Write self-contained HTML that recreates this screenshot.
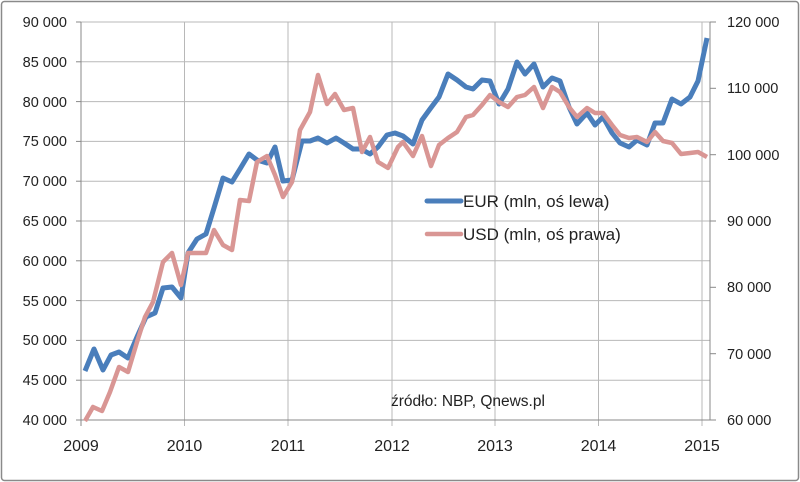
<!DOCTYPE html>
<html><head><meta charset="utf-8"><style>
html,body{margin:0;padding:0;background:#fff}
svg{display:block}
text{font-family:"Liberation Sans","DejaVu Sans",sans-serif;fill:#222}
</style></head><body>
<svg width="800" height="482" viewBox="0 0 800 482" xmlns="http://www.w3.org/2000/svg">
<rect x="1.5" y="1.5" width="797" height="479" rx="3" fill="#fff" stroke="#8a8a8a" stroke-width="1.5"/>
<g stroke="#b8b8b8" stroke-width="1">
<line x1="81" y1="22" x2="710" y2="22"/><line x1="81" y1="61.8" x2="710" y2="61.8"/><line x1="81" y1="101.6" x2="710" y2="101.6"/><line x1="81" y1="141.4" x2="710" y2="141.4"/><line x1="81" y1="181.2" x2="710" y2="181.2"/><line x1="81" y1="221" x2="710" y2="221"/><line x1="81" y1="260.8" x2="710" y2="260.8"/><line x1="81" y1="300.6" x2="710" y2="300.6"/><line x1="81" y1="340.4" x2="710" y2="340.4"/><line x1="81" y1="380.2" x2="710" y2="380.2"/>
<line x1="184.5" y1="22" x2="184.5" y2="426"/><line x1="288" y1="22" x2="288" y2="426"/><line x1="392" y1="22" x2="392" y2="426"/><line x1="495" y1="22" x2="495" y2="426"/><line x1="598.5" y1="22" x2="598.5" y2="426"/><line x1="702" y1="22" x2="702" y2="426"/>
</g>
<g stroke="#888" stroke-width="1">
<line x1="81" y1="22" x2="81" y2="426"/><line x1="76" y1="420" x2="710" y2="420"/><line x1="710" y1="22" x2="710" y2="420"/>
<line x1="76" y1="22" x2="81" y2="22"/><line x1="76" y1="61.8" x2="81" y2="61.8"/><line x1="76" y1="101.6" x2="81" y2="101.6"/><line x1="76" y1="141.4" x2="81" y2="141.4"/><line x1="76" y1="181.2" x2="81" y2="181.2"/><line x1="76" y1="221" x2="81" y2="221"/><line x1="76" y1="260.8" x2="81" y2="260.8"/><line x1="76" y1="300.6" x2="81" y2="300.6"/><line x1="76" y1="340.4" x2="81" y2="340.4"/><line x1="76" y1="380.2" x2="81" y2="380.2"/>
<line x1="710" y1="22" x2="716" y2="22"/><line x1="710" y1="88.3" x2="716" y2="88.3"/><line x1="710" y1="154.7" x2="716" y2="154.7"/><line x1="710" y1="221" x2="716" y2="221"/><line x1="710" y1="287.3" x2="716" y2="287.3"/><line x1="710" y1="353.7" x2="716" y2="353.7"/><line x1="710" y1="420" x2="716" y2="420"/>
</g>
<g font-size="14.5" text-anchor="end">
<text x="67" y="27">90 000</text><text x="67" y="67">85 000</text><text x="67" y="107">80 000</text><text x="67" y="146">75 000</text><text x="67" y="186">70 000</text><text x="67" y="226">65 000</text><text x="67" y="266">60 000</text><text x="67" y="306">55 000</text><text x="67" y="345">50 000</text><text x="67" y="385">45 000</text><text x="67" y="425">40 000</text>
</g>
<g font-size="14.5">
<text x="727" y="27">120 000</text><text x="727" y="93">110 000</text><text x="727" y="160">100 000</text><text x="727" y="226">90 000</text><text x="727" y="292">80 000</text><text x="727" y="359">70 000</text><text x="727" y="425">60 000</text>
</g>
<g font-size="16" text-anchor="middle">
<text x="81" y="451">2009</text><text x="184.5" y="451">2010</text><text x="288" y="451">2011</text><text x="392" y="451">2012</text><text x="495" y="451">2013</text><text x="598.5" y="451">2014</text><text x="702" y="451">2015</text>
</g>
<polyline fill="none" stroke="#4a7ebb" stroke-width="5" stroke-linejoin="round" points="85,371 94,349 103,370 111,355 119,352 128,358 137,337 146,317 155,313 163,288 172,287 181,298 188,253 197,239 206,234 214,208 223,178 232,182 240,169 249,154 257,160 267,163 275,147 283,181 292,180 302,141 310,141 318,138 327,143 336,138 344,143 353,149 361,149 370,154 378,147 387,135 395,133 403,136 413,144 422,120 430,109 439,97 448,74 457,80 466,87 473,89 482,80 490,81 499,104 508,89 517,62 525,74 534,64 543,87 552,78 560,81 569,107 577,124 587,113 595,125 603,117 612,133 620,143 629,147 637,140 647,145 655,123 663,123 672,99 681,104 690,97 698,81 707,38"/>
<polyline fill="none" stroke="#d99694" stroke-width="4.5" stroke-linejoin="round" points="85,421 93,407 102,411 110,392 119,367 128,372 137,342 145,317 153,302 163,262 172,253 181,285 188,253 197,253 206,253 214,230 223,245 232,250 240,200 249,201 257,162 267,156 275,175 283,197 292,182 300,130 310,112 318,75 327,104 335,94 344,110 353,108 362,152 370,137 378,162 388,168 398,147 403,142 413,156 422,136 431,166 439,145 448,138 457,132 466,117 473,115 482,105 490,95 499,102 508,107 517,97 525,95 534,87 543,108 552,87 560,92 569,107 577,117 587,108 595,113 603,113 612,125 620,135 629,138 637,137 647,142 655,132 663,141 672,143 681,154 690,153 698,152 707,157"/>
<line x1="427" y1="201" x2="461" y2="201" stroke="#4a7ebb" stroke-width="5" stroke-linecap="round"/>
<line x1="427" y1="234" x2="461" y2="234" stroke="#d99694" stroke-width="4.5" stroke-linecap="round"/>
<text x="463" y="207" font-size="17">EUR (mln, oś lewa)</text>
<text x="463" y="240" font-size="17">USD (mln, oś prawa)</text>
<text x="391" y="406" font-size="15.5">źródło: NBP, Qnews.pl</text>
</svg>
</body></html>
